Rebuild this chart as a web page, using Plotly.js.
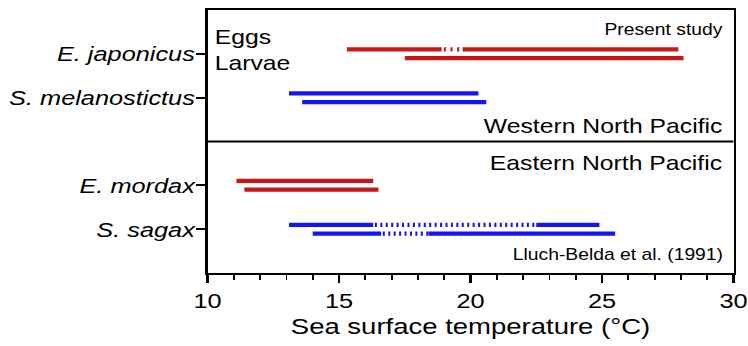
<!DOCTYPE html>
<html><head><meta charset="utf-8">
<script src="https://cdn.plot.ly/plotly-3.0.1.min.js"></script>
<style>
html,body{margin:0;padding:0;background:#fff;overflow:hidden}
#chart{width:620px;height:346px;transform:scaleX(1.20645);transform-origin:0 0}
</style>
</head><body><div id="chart"></div>
<script>
// ---- data ----
const species = ['E. japonicus', 'S. melanostictus', 'E. mordax', 'S. sagax'];
const region = ['Western North Pacific', 'Western North Pacific', 'Eastern North Pacific', 'Eastern North Pacific'];
const genus = ['Engraulis', 'Sardinops', 'Engraulis', 'Sardinops'];
const eggsMin = [15.3, 13.1, 11.1, 13.1];
const eggsMax = [27.9, 20.3, 16.3, 24.9];
const larvaeMin = [17.5, 13.6, 11.4, 14.0];
const larvaeMax = [28.1, 20.6, 16.5, 25.5];
// sub-ranges drawn dotted (uncertain), null when none
const eggsDotted = [[18.9, 19.7], null, null, [16.3, 22.5]];
const larvaeDotted = [null, null, null, [16.6, 18.4]];
const xTicks = [10, 15, 20, 25, 30];
const stageLabels = ['Eggs', 'Larvae'];
const sourceLabels = ['Present study', 'Lluch-Belda et al. (1991)'];

// ---- layout helpers ----
const FONT = 'Liberation Sans, Arial, Helvetica, sans-serif';
const colorOf = g => g === 'Engraulis' ? '#c91616' : '#1515f2';
const dashOf = g => g === 'Engraulis' ? '0px,1.9px,1.7px,1.9px' : '0px,1.4px,1.7px,1.4px';
// vertical slot for each species: one empty slot between the two regions
const slot = species.map((s, i) => {
  let k = i + 1;
  if (i > 0 && region[i] !== region[0]) k += 1;
  return 6 - k;
});
const OFF = 0.1;

const traces = [];
function addRange(y, lo, hi, dotted, color, dash) {
  const segs = [];
  if (dotted) {
    segs.push([lo, dotted[0], null]);
    segs.push([dotted[0], dotted[1], dash]);
    segs.push([dotted[1], hi, null]);
  } else {
    segs.push([lo, hi, null]);
  }
  segs.forEach(([a, b, d]) => {
    traces.push({
      type: 'scatter', mode: 'lines', x: [a, b], y: [y, y],
      line: {color: color, width: 4.2, dash: d || 'solid'},
      hoverinfo: 'skip', showlegend: false
    });
  });
}
species.forEach((s, i) => {
  const c = colorOf(genus[i]), d = dashOf(genus[i]);
  addRange(slot[i] + OFF, eggsMin[i], eggsMax[i], eggsDotted[i], c, d);
  addRange(slot[i] - OFF, larvaeMin[i], larvaeMax[i], larvaeDotted[i], c, d);
});

const ann = (text, x, y, xanchor, size) => ({
  text: text, x: x, y: y, xref: 'x', yref: 'y', xanchor: xanchor, yanchor: 'middle',
  showarrow: false, font: {family: FONT, size: size, color: '#000'}
});

const layout = {
  width: 620, height: 346, autosize: false,
  margin: {l: 172, r: 12, t: 10, b: 73},
  paper_bgcolor: '#fff', plot_bgcolor: '#fff',
  font: {family: FONT, color: '#000'},
  xaxis: {
    range: [10, 30], tickmode: 'array', tickvals: xTicks, ticktext: xTicks.map(String),
    ticks: 'outside', ticklen: 8, tickwidth: 1.8, tickcolor: '#000',
    minor: {tickmode: 'linear', tick0: 10, dtick: 1, ticks: 'outside', ticklen: 5, tickwidth: 1.5, tickcolor: '#000', showgrid: false},
    showline: true, linewidth: 2, linecolor: '#000', mirror: true,
    showgrid: false, zeroline: false,
    tickfont: {family: FONT, size: 21, color: '#000'},
    title: {text: 'Sea surface temperature (°C)', font: {family: FONT, size: 22.8, color: '#000'}, standoff: 7}
  },
  yaxis: {
    range: [0, 6], tickmode: 'array', tickvals: slot, ticktext: species.map(s => '<i>' + s + '</i>'),
    ticks: 'outside', ticklen: 7.5, tickwidth: 1.8, tickcolor: '#000',
    ticklabelstandoff: -3,
    showline: true, linewidth: 1.8, linecolor: '#000', mirror: true,
    showgrid: false, zeroline: false,
    tickfont: {family: FONT, size: 21, color: '#000'}
  },
  shapes: [{type: 'line', xref: 'paper', x0: 0, x1: 1, yref: 'y', y0: 3, y1: 3,
            line: {color: '#000', width: 2}}],
  annotations: [
    ann(stageLabels[0], 10.2, 5.40, 'left', 20.5),
    ann(stageLabels[1], 10.2, 4.80, 'left', 20.5),
    ann(sourceLabels[0], 29.7, 5.56, 'right', 16),
    ann(region[0], 29.7, 3.37, 'right', 20.5),
    ann(region[2], 29.7, 2.53, 'right', 20.5),
    ann(sourceLabels[1], 29.7, 0.43, 'right', 16)
  ]
};

Plotly.newPlot('chart', traces, layout, {staticPlot: true, displayModeBar: false});
</script>
</body></html>
